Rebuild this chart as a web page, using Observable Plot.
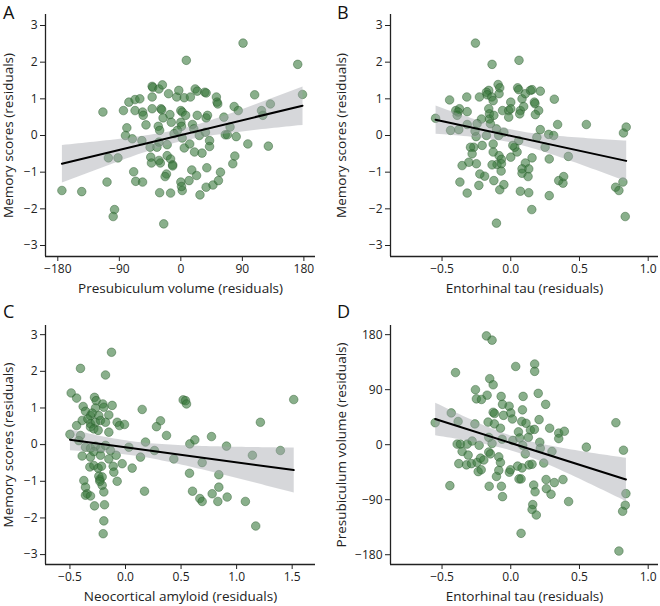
<!DOCTYPE html>
<html><head><meta charset="utf-8">
<script src="https://cdn.jsdelivr.net/npm/d3@7"></script>
<script src="https://cdn.jsdelivr.net/npm/@observablehq/plot@0.6"></script>
<style>
body{margin:0;background:#fff;font-family:"Open Sans",sans-serif;}
#wrap{position:relative;width:660px;height:606px;overflow:hidden;background:#fff;}
.panel{position:absolute;}
.letter{position:absolute;font-size:18px;color:#111;line-height:1;font-family:"Open Sans",sans-serif;}
[aria-label="x-axis label"] text,[aria-label="y-axis label"] text,
g[aria-label="x-axis label"],g[aria-label="y-axis label"]{font-size:13.5px;}
</style>
</head><body><div id="wrap"></div>
<script>
// Panel A: presubiculum volume (x) vs memory (y)
const aX = [-174,-145,-114,-108,-106,-92,-97,-99,-84,-79,
-81,-76,-71,-69,-67,-67,-60,-66,-56,-56,
-55,-51,-57,-42,-41,-42,-42,-45,-44,-43,
-32,-27,-29,-28,-33,-31,-32,-35,-32,-30,
-31,-25,-26,-21,-23,-20,-20,-18,-16,-14,
-15,-12,-12,-15,-10,-6,-3,0,2,0,
1,-5,2,5,0,2,1,8,5,7,
12,14,13,16,17,19,21,24,20,24,
23,28,31,27,35,37,37,39,36,42,
42,38,37,47,52,53,54,55,58,63,
65,68,72,76,79,78,84,81,91,98,
108,118,120,128,131,171,178];
const aY = [-1.5,-1.53,0.64,-1.27,-0.61,-0.61,-2.02,-2.21,0.68,0.21,
0,0.91,-0.09,-0.99,0.98,0.68,1.0,-1.25,-1.27,0.64,
0.55,0.29,-0.14,1.34,1.31,1.05,0.73,-0.32,-0.59,-0.75,
1.27,1.38,0.73,0.7,0.25,0.14,-0.18,-0.32,-0.68,-0.75,
-1.56,-2.41,0.48,-1.05,-1.12,-0.55,-0.25,1.14,0.57,0.36,
-0.64,-0.8,-0.83,-1.57,0.05,1.05,1.23,0.68,0.64,0.36,
0.25,0.14,-0.07,-0.34,-1.27,-1.5,-1.39,2.05,1.03,0.55,
-1.23,1.05,-0.23,-0.94,0.3,0.18,1.27,1.21,-0.45,0.55,
-1.09,-1.62,-0.48,0,1.18,1.16,0.48,0.55,0.09,-0.14,
-0.3,-0.88,-1.41,-1.35,1.05,0.91,0.86,-1.23,-1.0,0.5,
0.02,0.02,0.23,-0.77,-0.56,0.79,0.68,-0.03,2.52,-0.23,
1.11,0.68,0.55,-0.29,0.86,1.94,1.12];

// Panel B: entorhinal tau (x) vs memory (y)
const bX = [-0.257,-0.136,0.06,-0.092,-0.08,-0.16,-0.177,-0.172,-0.228,-0.138,
-0.128,-0.085,-0.445,-0.32,-0.317,-0.4,-0.373,-0.383,-0.39,-0.547,
-0.438,-0.378,-0.317,-0.213,-0.245,-0.16,-0.155,-0.155,-0.123,-0.148,
-0.104,-0.06,-0.015,0,-0.015,0,0.05,0.058,0.07,0.065,
0.082,0.094,0.106,0.143,0.155,0.215,0.172,0.176,0.203,0.179,
0.317,0.341,0.215,0.276,0.312,0.25,0.28,0.419,0.55,0.82,
0.84,0.763,0.787,0.816,0.833,0.349,0.38,0.385,0.28,0.153,
0.131,0.07,0.155,0.106,0.131,0.082,0.082,0.126,0,0.046,
0.029,0.015,0.058,-0.05,-0.085,-0.068,-0.1,-0.068,-0.07,-0.08,
-0.05,-0.123,-0.128,-0.128,-0.136,-0.104,-0.19,-0.225,-0.232,-0.208,
-0.252,-0.269,-0.293,-0.281,-0.25,-0.305,-0.354,-0.37,-0.317,-0.177,
-0.088,-0.26,0.19];
const bY = [2.52,1.94,2.05,1.39,1.3,1.23,1.18,1.11,1.05,1.05,
0.95,1.14,0.97,1.05,0.65,0.68,0.73,0.64,0.55,0.47,
0.14,0.16,0.3,0.45,0.32,0.73,0.59,0.45,0.55,0.32,
0.18,0.68,0.68,0.91,0.5,0.73,1.3,1.25,0.68,0.59,
1.0,0.79,1.14,1.23,1.25,1.21,0.91,0.87,0.68,0.57,
0.99,0.3,0.16,0.03,0,-0.32,-0.64,-0.57,0.3,0.07,
0.23,-1.41,-1.5,-1.27,-2.21,-1.23,-1.3,-1.12,-1.64,-2.02,
-1.56,-1.52,-0.61,-0.75,-0.91,-0.91,-1.03,-1.12,-0.59,-0.45,
-0.32,-0.27,-0.14,0.09,-0.55,-0.65,-0.79,-0.77,-0.97,-1.48,
-1.34,-1.23,-0.45,-0.23,-0.8,-2.39,-1.11,-1.05,-1.36,-0.27,
-0.03,-0.32,-0.32,-0.5,-0.77,-0.73,-0.82,-1.27,-1.57,0,
0,0.12,-0.05];

// Panel C: neocortical amyloid (x) vs memory (y)
const cX = [-0.126,-0.405,-0.18,-0.489,-0.44,-0.279,-0.264,-0.381,-0.36,-0.315,
-0.27,-0.204,-0.12,-0.195,-0.15,-0.3,-0.24,-0.39,-0.339,-0.315,
-0.27,-0.225,-0.18,-0.44,-0.315,-0.285,-0.246,-0.15,-0.075,-0.054,
-0.009,-0.5,-0.405,-0.42,-0.36,-0.315,-0.27,-0.225,-0.18,-0.135,
-0.39,-0.315,-0.285,-0.225,-0.15,-0.084,-0.321,-0.285,-0.246,-0.216,
-0.111,-0.105,-0.03,0.06,0.135,-0.075,-0.375,-0.36,-0.345,-0.36,
-0.315,-0.24,-0.231,-0.21,-0.21,-0.231,-0.195,-0.279,-0.189,-0.195,
-0.201,0.15,0.315,0.279,0.369,0.18,0.261,0.03,0.435,0.171,
0.519,0.54,0.549,0.579,0.624,0.576,0.603,0.669,0.69,0.69,
0.774,0.78,0.84,0.84,0.831,0.915,0.909,1.079,1.214,1.142,
1.172,1.394,1.514];
const cY = [2.52,2.08,1.9,1.41,1.27,1.29,1.2,1.04,0.91,0.79,
1.0,1.11,1.07,1.02,0.81,0.86,0.79,0.66,0.7,0.57,
0.61,0.66,0.61,0.52,0.48,0.43,0.39,0.34,0.61,0.52,
0.55,0.28,0.25,0.11,-0.07,-0.1,-0.04,-0.11,-0.02,-0.16,
-0.31,-0.34,-0.19,-0.29,-0.39,-0.29,-0.61,-0.57,-0.64,-0.59,
-0.59,-0.75,-0.52,-0.64,-0.34,-1.0,-0.98,-1.16,-1.34,-1.38,
-1.4,-0.86,-0.95,-0.88,-1.11,-1.0,-1.29,-1.67,-1.64,-2.08,
-2.43,0.96,0.65,0.49,0.25,0.07,-0.16,-0.07,-0.39,-1.27,
1.22,1.2,1.11,0.02,0.13,-0.78,-1.27,-1.47,-1.55,-0.49,
0.22,-1.34,-0.82,-1.16,-1.55,-1.43,-0.04,-1.55,0.61,-0.29,
-2.22,-0.16,1.23];

// Panel D: entorhinal tau (x) vs presubiculum volume (y)
const dX = [-0.177,-0.136,-0.402,0.036,0.174,0.174,-0.153,-0.128,-0.257,-0.172,
-0.25,-0.213,-0.07,0.09,0.2,0.254,-0.06,-0.012,0.085,0,
-0.053,-0.128,-0.118,0.012,-0.433,-0.383,-0.55,-0.261,-0.165,-0.119,
-0.075,0.08,0.111,0.206,0.283,0.143,0.172,0.056,0.065,0.128,
0.349,0.39,0.349,0.211,0.765,0.55,0.82,-0.39,-0.366,-0.317,
-0.281,-0.354,-0.31,-0.23,-0.16,-0.136,-0.063,0.015,0.087,0.215,
0.3,-0.378,-0.322,-0.286,-0.245,-0.22,-0.196,-0.16,-0.148,-0.087,
-0.075,-0.237,-0.215,-0.087,-0.01,-0.002,0.05,0.082,0.133,0.155,
0.106,0.24,-0.104,-0.443,-0.157,-0.068,-0.06,0.06,0.075,0.167,
0.177,0.257,0.259,0.293,0.317,0.38,0.16,0.155,0.186,0.421,
0.075,0.838,0.833,0.814,0.787];
const dY = [178,171,118,128,132,120,108,98,90,81,
75,74,79,79,84,66,66,63,57,52,
48,53,51,42,52,38,36,34,37,34,
27,38,35,41,27,24,25,21,11,12,
19,22,10,4,36,-4,-9,1,1,1,
6,-11,-17,-1,12,2,9,7,-1,-6,
-11,-31,-33,-31,-29,-22,-25,-12,-15,-20,
-29,-44,-41,-42,-45,-41,-35,-38,-33,-32,
-15,-30,-52,-67,-68,-68,-85,-56,-56,-66,
-77,-57,-72,-81,-62,-57,-98,-106,-115,-93,
-145,-80,-99,-109,-174];

// Tick values and labels
const memoryTicks = [-3,-2,-1,0,1,2,3];
const volumeTicks = [-180,-90,0,90,180];
const tauTicks = [-0.5,0,0.5,1.0];
const amyloidTicks = [-0.5,0,0.5,1.0,1.5];
const panelLetters = ["A","B","C","D"];
const volumeLabel = "Presubiculum volume (residuals)";
const memoryLabel = "Memory scores (residuals)";
const tauLabel = "Entorhinal tau (residuals)";
const amyloidLabel = "Neocortical amyloid (residuals)";

const f1 = d3.format(".1f");
const fInt = d3.format("d");

const wrap = document.getElementById("wrap");

function panel(o) {
  const data = o.xs.map((x, i) => ({x, y: o.ys[i]}));
  const plot = Plot.plot({
    width: o.width, height: o.height,
    marginLeft: o.mL, marginRight: o.mR, marginTop: o.mT, marginBottom: o.mB,
    style: {fontFamily: '"Open Sans", sans-serif', fontSize: "12px", color: "#222", background: "transparent", overflow: "visible"},
    x: {domain: o.xDomain, ticks: o.xTicks, tickFormat: o.xFormat, tickSize: 5, tickPadding: 3,
        label: o.xLabel, labelAnchor: "center", labelOffset: 36, labelArrow: "none"},
    y: {domain: o.yDomain, ticks: o.yTicks, tickFormat: o.yFormat, tickSize: 5, tickPadding: 3,
        label: o.yLabel, labelAnchor: "center", labelOffset: o.yLabelOffset, labelArrow: "none"},
    marks: [
      Plot.dot(data, {x: "x", y: "y", r: 4.3, fill: "#3a7a3e", fillOpacity: 0.6,
        stroke: "#2a5a2c", strokeOpacity: 0.55, strokeWidth: 0.8}),
      Plot.linearRegressionY(data, {x: "x", y: "y", ci: 0.95, stroke: "#000", strokeWidth: 2,
        fill: "#a3a7ae", fillOpacity: 0.45}),
      Plot.ruleX([o.xDomain[0]], {stroke: "#222", strokeWidth: 1.3}),
      Plot.ruleY([o.yDomain[0]], {stroke: "#222", strokeWidth: 1.3})
    ]
  });
  const div = document.createElement("div");
  div.className = "panel";
  div.style.left = o.left + "px";
  div.style.top = o.top + "px";
  div.appendChild(plot);
  wrap.appendChild(div);
  const L = document.createElement("div");
  L.className = "letter";
  L.textContent = o.letter;
  L.style.left = o.letterX + "px";
  L.style.top = o.letterY + "px";
  wrap.appendChild(L);
}

panel({letter: panelLetters[0], letterX: 3, letterY: 3, xs: aX, ys: aY,
  left: 0, top: 0, width: 330, height: 303, mL: 45, mR: 15, mT: 14, mB: 47,
  xDomain: [-198, 197], yDomain: [-3.3, 3.3], xTicks: volumeTicks, yTicks: memoryTicks,
  xFormat: fInt, yFormat: fInt, xLabel: volumeLabel, yLabel: memoryLabel, yLabelOffset: 42});

panel({letter: panelLetters[1], letterX: 337, letterY: 3, xs: bX, ys: bY,
  left: 333, top: 0, width: 327, height: 303, mL: 57, mR: 2, mT: 14, mB: 47,
  xDomain: [-0.875, 1.075], yDomain: [-3.3, 3.3], xTicks: tauTicks, yTicks: memoryTicks,
  xFormat: f1, yFormat: fInt, xLabel: tauLabel, yLabel: memoryLabel, yLabelOffset: 54});

panel({letter: panelLetters[2], letterX: 3, letterY: 302, xs: cX, ys: cY,
  left: 0, top: 309, width: 330, height: 297, mL: 45, mR: 15, mT: 16, mB: 42,
  xDomain: [-0.72, 1.71], yDomain: [-3.27, 3.25], xTicks: amyloidTicks, yTicks: memoryTicks,
  xFormat: f1, yFormat: fInt, xLabel: amyloidLabel, yLabel: memoryLabel, yLabelOffset: 42});

panel({letter: panelLetters[3], letterX: 337, letterY: 302, xs: dX, ys: dY,
  left: 333, top: 309, width: 327, height: 297, mL: 57, mR: 2, mT: 16, mB: 42,
  xDomain: [-0.875, 1.075], yDomain: [-196, 195], xTicks: tauTicks, yTicks: volumeTicks,
  xFormat: f1, yFormat: fInt, xLabel: tauLabel, yLabel: volumeLabel, yLabelOffset: 54});
</script>
</body></html>
